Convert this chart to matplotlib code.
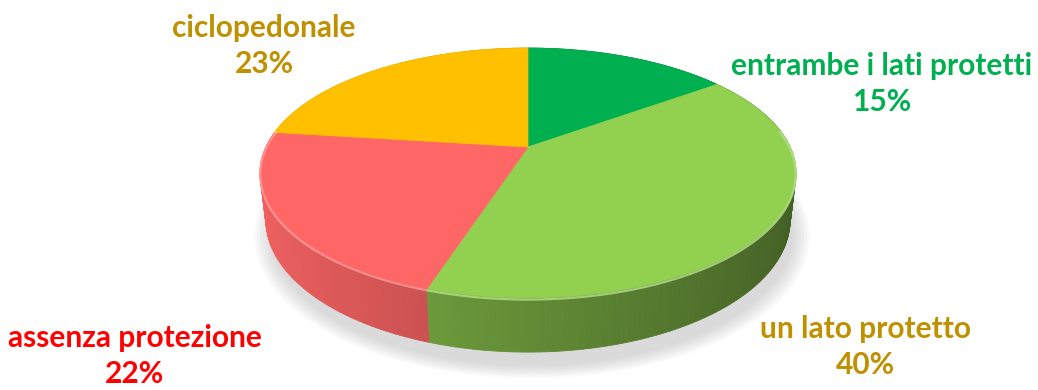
import numpy as np
import matplotlib
matplotlib.use("Agg")
import matplotlib.pyplot as plt
from matplotlib.patches import Polygon
from matplotlib.colors import to_rgb

# ---- data ----
categories = ["entrambe i lati protetti", "un lato protetto", "assenza protezione", "ciclopedonale"]
values = [15, 40, 22, 23]
pct_labels = ["15%", "40%", "22%", "23%"]

# ---- styles ----
top_colors = ["#00B050", "#92D050", "#FF6666", "#FFC000"]
label_colors = ["#00B050", "#BF9000", "#FF0000", "#BF9000"]
label_xy = [(882, 84), (865, 347), (135, 356), (264, 46)]

W, H = 1038, 390
fig = plt.figure(figsize=(W / 100, H / 100), dpi=100)
ax = fig.add_axes([0, 0, 1, 1])
ax.set_xlim(0, W)
ax.set_ylim(H, 0)
ax.axis("off")

# perspective projection of a 3D disc
F, k, s, c = 262.1, 0.208, 0.456, 0.89
d = c / k
h = 0.203
cx, cy = 528, 147


def proj(u, v, w):
    z = d + v * c - w * s
    X = F * d * u / z
    Y = F * d * (v * s + w * c) / z
    return cx + X, cy - Y


def pt(theta, w, r=1.0):
    return proj(r * np.sin(theta), r * np.cos(theta), w)


# shadow
th_all = np.linspace(0, 2 * np.pi, 361)
for i, sc in enumerate(np.linspace(1.06, 1.0, 7)):
    poly = [pt(t, -h - 0.03, sc) for t in th_all]
    poly = [(x + 4, y + 6) for x, y in poly]
    ax.add_patch(Polygon(poly, closed=True, facecolor="#909090", edgecolor="none", alpha=0.05))

total = float(sum(values))
bounds = np.concatenate([[0], np.cumsum(values) / total * 2 * np.pi])

# side strips
strips = []
for i in range(len(values)):
    a0, a1 = bounds[i], bounds[i + 1]
    n = max(2, int(np.degrees(a1 - a0)))
    ts = np.linspace(a0, a1, n + 1)
    base = np.array(to_rgb(top_colors[i]))
    for t0, t1 in zip(ts[:-1], ts[1:]):
        tm = 0.5 * (t0 + t1)
        ratio = 0.67 - 0.22 * np.sin(tm)
        col = np.clip(base * ratio, 0, 1)
        if i == 2:
            col = np.clip(base * (ratio + 0.06), 0, 1)
        poly = [pt(t0, 0), pt(t1, 0), pt(t1, -h), pt(t0, -h)]
        strips.append((np.cos(tm), poly, col))
strips.sort(key=lambda x: -x[0])
for _, poly, col in strips:
    ax.add_patch(Polygon(poly, closed=True, facecolor=col, edgecolor=col, linewidth=0.6))

# top faces
for i in range(len(values)):
    a0, a1 = bounds[i], bounds[i + 1]
    ts = np.linspace(a0, a1, 200)
    poly = [proj(0, 0, 0)] + [pt(t, 0) for t in ts]
    ax.add_patch(Polygon(poly, closed=True, facecolor=top_colors[i], edgecolor=top_colors[i], linewidth=0.5))
    front = [t for t in ts if np.cos(t) < 0.15]
    if front:
        base = np.array(to_rgb(top_colors[i]))
        light = np.clip(base + (1 - base) * 0.35, 0, 1)
        xs, ys = zip(*[pt(t, -0.006) for t in front])
        ax.plot(xs, ys, color=light, linewidth=1.6, solid_capstyle="butt", alpha=0.8)

# labels
for i in range(len(values)):
    x, y = label_xy[i]
    ax.text(x, y, f"{categories[i]}\n{pct_labels[i]}", ha="center", va="center",
            multialignment="center", color=label_colors[i], fontsize=21.5,
            fontweight="bold", family=["Lato", "DejaVu Sans"], linespacing=1.38)

fig.savefig("out.png", dpi=100)
